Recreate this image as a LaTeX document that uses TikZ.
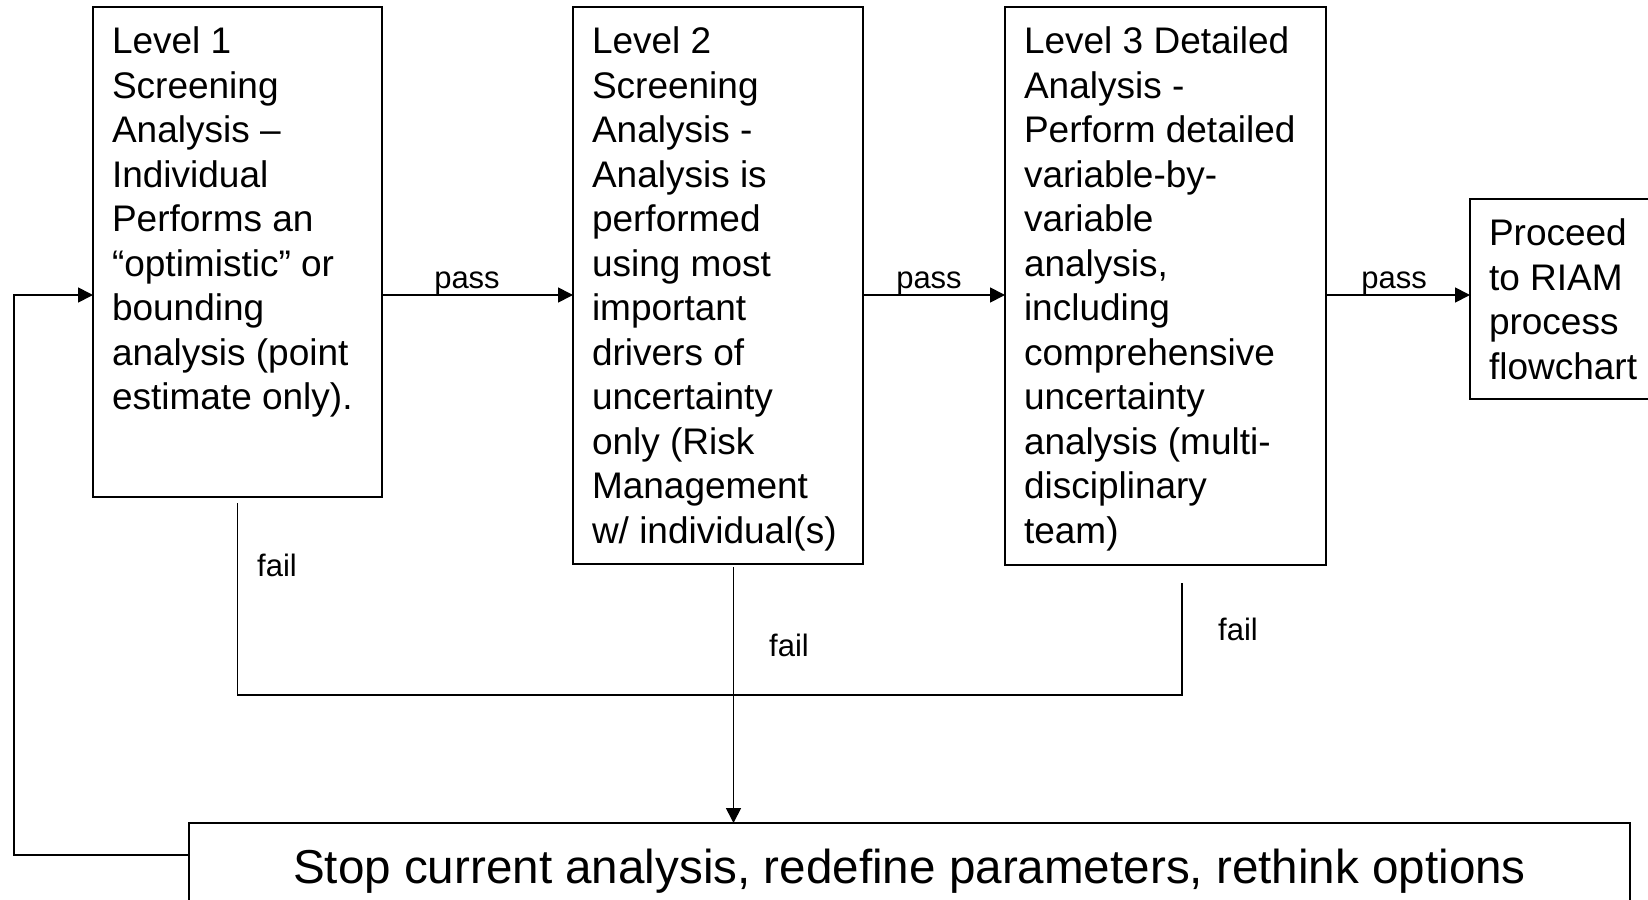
\documentclass[tikz,border=0pt]{standalone}
\usepackage{fontspec}
\setmainfont{Liberation Sans}
\usetikzlibrary{arrows.meta,calc}

\begin{document}
\begin{tikzpicture}[x=1pt, y=-1pt,
  box/.style={draw, line width=2pt, inner sep=0pt, outer sep=0pt, anchor=north west},
  body/.style={anchor=north west, inner sep=0pt, outer sep=0pt, align=left,
               font=\fontsize{37}{44.5}\selectfont},
  lbl/.style={anchor=base, inner sep=0pt, font=\fontsize{31}{37}\selectfont},
  link/.style={line width=1.7pt},
  arr/.style={link, -{Triangle[length=15pt,width=15pt]}}]
\useasboundingbox (0,0) rectangle (1648,899);
\clip (0,0) rectangle (1648,899);

% boxes
\node[box, minimum width=288.5pt, minimum height=490pt]  (b1) at (93,7) {};
\node[box, minimum width=289.5pt, minimum height=557pt]  (b2) at (573,7) {};
\node[box, minimum width=321pt,   minimum height=557.5pt] (b3) at (1005,7) {};
\node[box, minimum width=200pt,   minimum height=200pt]  (b4) at (1470,199) {};
\node[box, minimum width=1441pt,  minimum height=110pt]  (b5) at (189,823) {};

% box texts
\node[body] (t1) at ($(b1.north west)+(19,20)$) {Level 1\\Screening\\Analysis –\\Individual\\Performs an\\“optimistic” or\\bounding\\analysis (point\\estimate only).};
\node[body] (t2) at ($(b2.north west)+(19,20)$) {Level 2\\Screening\\Analysis -\\Analysis is\\performed\\using most\\important\\drivers of\\uncertainty\\only (Risk\\Management\\w/ individual(s)};
\node[body] (t3) at ($(b3.north west)+(19,20)$) {Level 3 Detailed\\Analysis -\\Perform detailed\\variable-by-\\variable\\analysis,\\including\\comprehensive\\uncertainty\\analysis (multi-\\disciplinary\\team)};
\node[body] (t4) at ($(b4.north west)+(19,20)$) {Proceed\\to RIAM\\process\\flowchart};
\node[anchor=base, inner sep=0pt, font=\fontsize{47.6}{57}\selectfont] (t5) at ($(b5.north)+(0,60)$) {Stop current analysis, redefine parameters, rethink options};

% pass connectors
\coordinate (lvl) at (0,295);
\draw[arr] (b1.east |- lvl) -- (b2.west |- lvl);
\draw[arr] (b2.east |- lvl) -- (b3.west |- lvl);
\draw[arr] (b3.east |- lvl) -- (b4.west |- lvl);
\node[lbl] (p1) at (467,288) {pass};
\node[lbl] (p2) at (929,288) {pass};
\node[lbl] (p3) at (1394,288) {pass};

% loop back to level 1
\coordinate (loop) at (14,855);
\draw[arr] (b5.west |- loop) -- (loop) |- (b1.west |- lvl);

% fail connectors
\coordinate (f1) at (237.5,503);
\coordinate (f2) at (733.5,567);
\coordinate (f3) at (1182,582.5);
\coordinate (join) at (0,695);
\draw[link] (f1) -- (f1 |- join) -- (f3 |- join) -- (f3);
\draw[arr] (f2) -- (b5.north -| f2);
\node[lbl] (x1) at (277,576) {fail};
\node[lbl] (x2) at (789,656) {fail};
\node[lbl] (x3) at (1238,640) {fail};
\end{tikzpicture}
\end{document}
